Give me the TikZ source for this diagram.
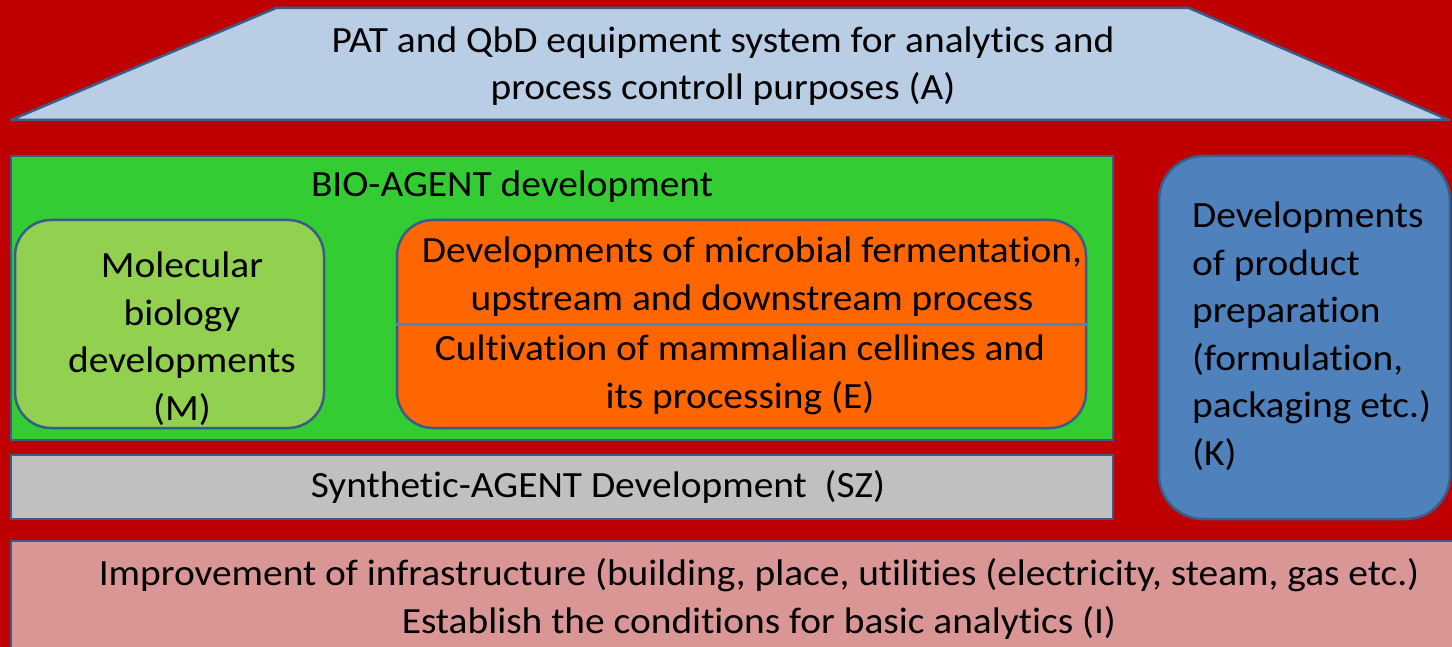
\documentclass[tikz,border=0pt]{standalone}
\usepackage{fontspec}
\setmainfont{Carlito}[FakeStretch=1.065, Ligatures=CommonOff]

\tikzstyle{block}=[draw=EdgeBlue, line width=2.5pt, inner sep=0pt]
\tikzstyle{round-block}=[block, rounded corners=36pt]
\tikzstyle{label-text}=[inner sep=0pt, anchor=base, align=center, font=\fontsize{37}{47.5}\selectfont]
\definecolor{BackRed}{HTML}{BE0000}
\definecolor{EdgeBlue}{HTML}{385D8A}
\definecolor{RoofBlue}{HTML}{B9CDE5}
\definecolor{BioGreen}{HTML}{33CC33}
\definecolor{MolGreen}{HTML}{92D050}
\definecolor{FermOrange}{HTML}{FF6600}
\definecolor{ProdBlue}{HTML}{4F81BD}
\definecolor{SynGray}{HTML}{C0C0C0}
\definecolor{InfraPink}{HTML}{D99694}

\begin{document}
\begin{tikzpicture}[x=1pt, y=-1pt]
      \clip (0,0) rectangle (1452,647);
      \fill[BackRed] (0,0) rectangle (1452,647);

      \coordinate (roof-sw) at (11, 120);
      \coordinate (roof-nw) at (276, 8);
      \coordinate (roof-ne) at (1189, 8);
      \coordinate (roof-se) at (1449, 120);
      \draw[block, fill=RoofBlue, line join=round]
            (roof-sw) -- (roof-nw) -- (roof-ne) -- (roof-se) -- cycle;
      \node (roof-text) at (723, 100)
            [label-text] {PAT and QbD equipment system for analytics and\\process controll purposes (A)};

      \node (bio) at (562, 298)
            [block, fill=BioGreen, minimum width=1102pt, minimum height=284pt] {};
      \node (bio-text) at (512, 197)
            [label-text] {BIO-AGENT development};

      \node (mol) at (169.5, 324)
            [round-block, fill=MolGreen, minimum width=309pt, minimum height=208pt] {};
      \node (mol-text) at (182, 420)
            [label-text] {Molecular\\biology\\developments\\(M)};

      \node (ferm) at (741.5, 324)
            [round-block, fill=FermOrange, minimum width=689pt, minimum height=208pt] {};
      \coordinate (ferm-split) at (0, 324);
      \draw[ProdBlue, line width=3pt] (ferm.west |- ferm-split) -- (ferm.east |- ferm-split);
      \node (ferm-text) at (752, 310)
            [label-text] {Developments of microbial fermentation,\\upstream and downstream process};
      \node (cell-text) at (740, 408)
            [label-text] {Cultivation of mammalian cellines and\\its processing (E)};

      \node (prod) at (1304.5, 337.5)
            [block, rounded corners=44pt, fill=ProdBlue, minimum width=291pt, minimum height=363pt] {};
      \node (prod-text) at (1192, 465)
            [label-text, anchor=base west, align=left] {Developments\\of product\\preparation\\(formulation,\\packaging etc.)\\(K)};

      \node (syn) at (562, 487)
            [block, fill=SynGray, minimum width=1102pt, minimum height=64pt] {};
      \node (syn-text) at (598, 497)
            [label-text] {Synthetic-AGENT Development\ \ (SZ)};

      \node (infra) at (740.5, 605.5)
            [block, fill=InfraPink, minimum width=1459pt, minimum height=129pt] {};
      \node (infra-text) at (759, 633)
            [label-text] {Improvement of infrastructure (building, place, utilities (electricity, steam, gas etc.)\\Establish the conditions for basic analytics (I)};
\end{tikzpicture}
\end{document}
